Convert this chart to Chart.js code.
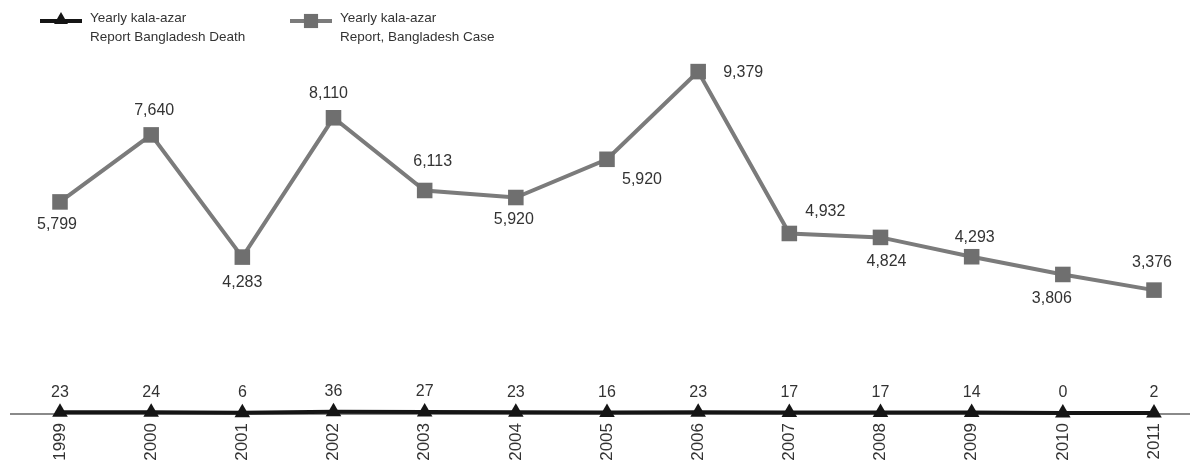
<!DOCTYPE html>
<html><head><meta charset="utf-8">
<script src="https://cdn.jsdelivr.net/npm/chart.js@4.4.1/dist/chart.umd.min.js"></script>
<style>html,body{margin:0;padding:0;background:#fff}#wrap{width:1190px;height:466px;position:relative}</style>
</head><body><div id="wrap"><canvas id="c" width="1190" height="466"></canvas></div>
<script>
const years = ['1999','2000','2001','2002','2003','2004','2005','2006','2007','2008','2009','2010','2011'];
const deathValues = [23,24,6,36,27,23,16,23,17,17,14,0,2];
const caseValues = [5799,7640,4283,8110,6113,5920,6970,9379,4932,4824,4293,3806,3376];
const caseLabels = ['5,799','7,640','4,283','8,110','6,113','5,920','5,920','9,379','4,932','4,824','4,293','3,806','3,376'];
const deathLabels = deathValues.map(String);
const deathLegend = ['Yearly kala-azar','Report Bangladesh Death'];
const caseLegend = ['Yearly kala-azar','Report, Bangladesh Case'];

const FONT = '"Liberation Sans", Arial, Helvetica, sans-serif';
const TEXT = '#333333';

const axisLine = {
  id: 'axisLine',
  beforeDatasetsDraw(chart, args, o) {
    const ctx = chart.ctx, y = chart.scales.y.getPixelForValue(0) + o.dy;
    ctx.save();
    ctx.strokeStyle = o.color; ctx.lineWidth = o.width;
    ctx.beginPath(); ctx.moveTo(o.x0, y); ctx.lineTo(chart.width, y); ctx.stroke();
    ctx.restore();
  }
};

const valueLabels = {
  id: 'valueLabels',
  afterDatasetsDraw(chart, args, o) {
    const ctx = chart.ctx;
    ctx.save();
    ctx.font = o.font; ctx.fillStyle = o.color;
    ctx.textAlign = 'center'; ctx.textBaseline = 'middle';
    chart.data.datasets.forEach((ds, i) => {
      const meta = chart.getDatasetMeta(i);
      const offs = o.offsets[i];
      meta.data.forEach((pt, j) => {
        const off = offs[j] || offs[0];
        ctx.fillText(ds.pointLabels[j], pt.x + off[0], pt.y + off[1]);
      });
    });
    ctx.restore();
  }
};

const customLegend = {
  id: 'customLegend',
  afterDraw(chart, args, o) {
    const ctx = chart.ctx;
    ctx.save();
    chart.data.datasets.forEach((ds, i) => {
      const it = o.items[i];
      ctx.strokeStyle = ds.borderColor; ctx.lineWidth = ds.borderWidth;
      ctx.beginPath(); ctx.moveTo(it.x, it.y); ctx.lineTo(it.x + it.len, it.y); ctx.stroke();
      ctx.fillStyle = ds.pointBackgroundColor; ctx.strokeStyle = ds.pointBackgroundColor;
      Chart.helpers.drawPoint(ctx, {pointStyle: ds.pointStyle, radius: it.r, rotation: 0, borderWidth: 0}, it.x + it.len / 2, it.y + it.my);
      ctx.fillStyle = o.color; ctx.font = o.font;
      ctx.textAlign = 'left'; ctx.textBaseline = 'middle';
      ds.legendLines.forEach((t, k) => ctx.fillText(t, it.tx, it.ty + k * o.lineH));
    });
    ctx.restore();
  }
};

new Chart(document.getElementById('c'), {
  type: 'line',
  data: {
    labels: years,
    datasets: [
      {
        label: deathLegend.join(' '),
        legendLines: deathLegend,
        data: deathValues,
        pointLabels: deathLabels,
        borderColor: '#151515', borderWidth: 4,
        pointStyle: 'triangle', pointRadius: 9,
        pointBackgroundColor: '#151515', pointBorderColor: '#151515', pointBorderWidth: 0,
        tension: 0, clip: false
      },
      {
        label: caseLegend.join(' '),
        legendLines: caseLegend,
        data: caseValues,
        pointLabels: caseLabels,
        borderColor: '#7b7b7b', borderWidth: 4,
        pointStyle: 'rect', pointRadius: 11,
        pointBackgroundColor: '#6f6f6f', pointBorderColor: '#6f6f6f', pointBorderWidth: 0,
        tension: 0, clip: false
      }
    ]
  },
  options: {
    responsive: false,
    devicePixelRatio: 1,
    animation: false,
    layout: {padding: {left: 60, right: 36, top: 49, bottom: 0}},
    scales: {
      x: {
        offset: false,
        grid: {display: false, drawTicks: false},
        border: {display: false},
        ticks: {
          color: TEXT, font: {family: FONT, size: 17},
          minRotation: 90, maxRotation: 90, padding: 10, autoSkip: false
        },
        afterFit(s) { s.height = 53; }
      },
      y: {display: false, min: 0, max: 10000}
    },
    plugins: {
      legend: {display: false},
      tooltip: {enabled: false},
      axisLine: {x0: 10, dy: 1, color: '#8a8a8a', width: 2},
      valueLabels: {
        font: '16px ' + FONT, color: TEXT,
        offsets: [
          [[0, -20]],
          [[-3, 23], [3, -24], [0, 25], [-5, -24], [8, -29], [-2, 22], [35, 20], [45, 1], [36, -22], [6, 24], [3, -19], [-11, 24], [-2, -28]]
        ]
      },
      customLegend: {
        font: '13.5px ' + FONT, color: TEXT, lineH: 19,
        items: [
          {x: 40, y: 21, len: 42, r: 8, my: -1, tx: 90, ty: 18},
          {x: 290, y: 21, len: 42, r: 10, my: 0, tx: 340, ty: 18}
        ]
      }
    }
  },
  plugins: [axisLine, valueLabels, customLegend]
});
</script>
</body></html>
